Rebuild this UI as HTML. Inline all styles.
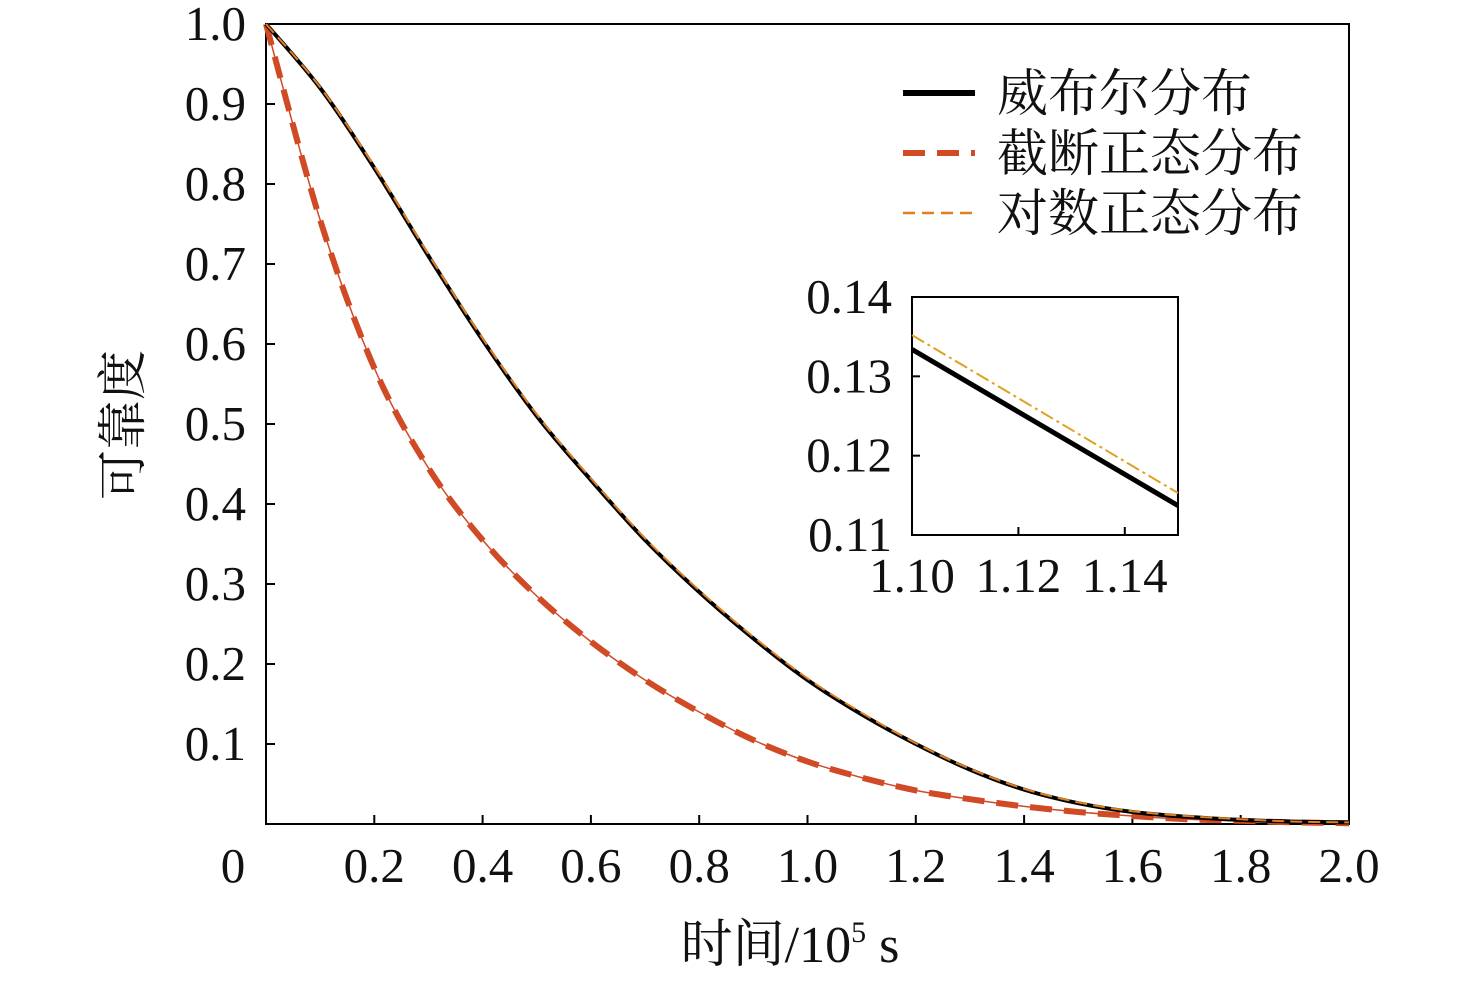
<!DOCTYPE html>
<html><head><meta charset="utf-8"><style>
body{margin:0;background:#fff}
svg text{font-family:"Liberation Serif","Noto Serif CJK SC",serif;fill:#111}
</style></head><body>
<svg id="c" width="1476" height="980"></svg>
<script>
const xVals=[0,0.1,0.2,0.3,0.4,0.5,0.6,0.7,0.8,0.9,1.0,1.1,1.2,1.3,1.4,1.5,1.6,1.7,1.8,1.9,2.0];
const weibull=[1,0.92,0.82,0.71,0.605,0.51,0.43,0.355,0.29,0.232,0.18,0.137,0.1,0.068,0.043,0.026,0.015,0.009,0.005,0.003,0.002];
const lognorm=[1,0.921,0.822,0.712,0.607,0.512,0.432,0.357,0.292,0.234,0.182,0.139,0.101,0.069,0.044,0.027,0.016,0.01,0.006,0.003,0.002];
const truncNorm=[1,0.755,0.57,0.445,0.355,0.285,0.228,0.18,0.14,0.105,0.078,0.058,0.042,0.031,0.022,0.015,0.01,0.006,0.004,0.002,0.001];
const yTicks=[0.1,0.2,0.3,0.4,0.5,0.6,0.7,0.8,0.9,1.0];
const xTicks=[0.2,0.4,0.6,0.8,1.0,1.2,1.4,1.6,1.8,2.0];
const insetX=[1.10,1.15];
const insetWeibull=[0.1334,0.1137];
const insetLognorm=[0.1352,0.1153];
const insetXTicks=[1.10,1.12,1.14];
const insetYTicks=[0.11,0.12,0.13,0.14];

const NS='http://www.w3.org/2000/svg',svg=document.getElementById('c');
function mk(t,a,p){const e=document.createElementNS(NS,t);for(const k in a)e.setAttribute(k,a[k]);(p||svg).appendChild(e);return e;}
const X=v=>266+v/2*1083, Y=v=>824-v*800;
const IX=v=>912+(v-1.10)/0.05*266, IY=v=>535-(v-0.11)/0.03*238;

let f=mk('rect',{x:266,y:24,width:1083,height:800,fill:'none',stroke:'#000','stroke-width':2});

yTicks.forEach(v=>{mk('line',{x1:266,x2:275,y1:Y(v),y2:Y(v),stroke:'#000','stroke-width':2});
 const t=mk('text',{x:246,y:Y(v)+16,'font-size':49,'text-anchor':'end'});t.textContent=v.toFixed(1);
 });
xTicks.forEach(v=>{mk('line',{x1:X(v),x2:X(v),y1:824,y2:815,stroke:'#000','stroke-width':2});
 const t=mk('text',{x:X(v),y:882,'font-size':49,'text-anchor':'middle'});t.textContent=v.toFixed(1);
 });
let z=mk('text',{x:233,y:882,'font-size':49,'text-anchor':'middle'});z.textContent='0';


function path(xs,ys,fx,fy){return xs.map((x,i)=>(i?'L':'M')+fx(x).toFixed(1)+','+fy(ys[i]).toFixed(1)).join('');}
function smooth(xs,ys,fx,fy){let p=xs.map((x,i)=>[fx(x),fy(ys[i])]);let d='M'+p[0];for(let i=0;i<p.length-1;i++){const p0=p[i-1]||p[i],p1=p[i],p2=p[i+1],p3=p[i+2]||p2;d+='C'+(p1[0]+(p2[0]-p0[0])/6)+','+(p1[1]+(p2[1]-p0[1])/6)+' '+(p2[0]-(p3[0]-p1[0])/6)+','+(p2[1]-(p3[1]-p1[1])/6)+' '+p2;}return d;}
let s;
s=mk('path',{d:smooth(xVals,truncNorm,X,Y),fill:'none',stroke:'#d04a25','stroke-width':1.5});

s=mk('path',{d:smooth(xVals,truncNorm,X,Y),fill:'none',stroke:'#d04a25','stroke-width':6,'stroke-dasharray':'22 12'});

s=mk('path',{d:smooth(xVals,weibull,X,Y),fill:'none',stroke:'#000','stroke-width':4});

s=mk('path',{d:smooth(xVals,lognorm,X,Y),fill:'none',stroke:'#e07f20','stroke-width':2,'stroke-dasharray':'12 6'});


const leg=[['威布尔分布','#000',6,''],['截断正态分布','#d04a25',6,'22 12'],['对数正态分布','#e07f20',2.5,'12 7']];
leg.forEach((l,i)=>{const y=93+i*60;
 const g=mk('g',{});
 mk('line',{x1:903,x2:975,y1:y,y2:y,stroke:l[1],'stroke-width':l[2],'stroke-dasharray':l[3]},g);
 const t=mk('text',{x:997,y:y+18,'font-size':51},g);t.textContent=l[0];});

const ig=mk('g',{});
mk('rect',{x:912,y:297,width:266,height:238,fill:'#fff',stroke:'#000','stroke-width':2},ig);
insetYTicks.forEach(v=>{mk('line',{x1:912,x2:920,y1:IY(v),y2:IY(v),stroke:'#000','stroke-width':2},ig);
 const t=mk('text',{x:892,y:IY(v)+16,'font-size':49,'text-anchor':'end'},ig);t.textContent=v.toFixed(2);
 });
insetXTicks.forEach(v=>{mk('line',{x1:IX(v),x2:IX(v),y1:535,y2:527,stroke:'#000','stroke-width':2},ig);
 const t=mk('text',{x:IX(v),y:592,'font-size':49,'text-anchor':'middle'},ig);t.textContent=v.toFixed(2);
 });
s=mk('path',{d:path(insetX,insetWeibull,IX,IY),stroke:'#000','stroke-width':5,fill:'none'},ig);

s=mk('path',{d:path(insetX,insetLognorm,IX,IY),stroke:'#e0a020','stroke-width':2,fill:'none','stroke-dasharray':'14 4 3 4'},ig);


let yt=mk('text',{x:0,y:0,'font-size':50,'text-anchor':'middle',transform:'translate(140,425) rotate(-90)'});yt.textContent='可靠度';

let xt=mk('text',{x:790,y:962,'font-size':52,'text-anchor':'middle'});xt.innerHTML='时间/10<tspan dy="-20" font-size="30">5</tspan><tspan dy="20"> s</tspan>';

</script></body></html>
